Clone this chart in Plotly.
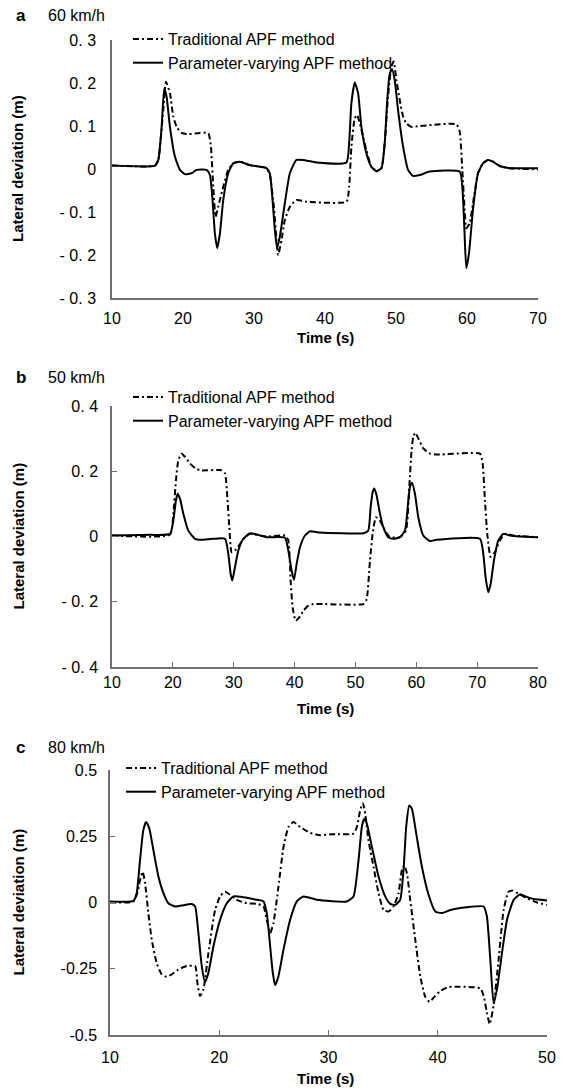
import plotly.graph_objects as go

# ---------------- Panel a (60 km/h) ----------------
a_t_pv = [10, 16.05, 16.52, 16.99, 17.36, 17.69, 18.16, 18.86, 19.57, 20.27, 21.21, 21.91, 23.32, 23.79, 24.16, 24.49, 24.82, 25.2, 25.67, 26.37, 27.07, 28.01, 29.42, 31.76, 32.23, 32.61, 32.94, 33.26, 33.64, 34.34, 35.05, 35.98, 36.92, 38.8, 43.02, 43.4, 43.72, 44.19, 44.66, 45.13, 45.83, 46.54, 47.24, 47.95, 48.41, 48.74, 49.12, 49.45, 49.82, 50.29, 51.0, 51.7, 52.4, 53.34, 54.75, 58.97, 59.34, 59.62, 59.9, 60.28, 60.84, 61.55, 62.25, 62.96, 63.66, 64.6, 66.0, 70]
a_v_pv = [0.008, 0.008, 0.021, 0.098, 0.188, 0.168, 0.098, 0.029, -0.002, -0.012, -0.010, -0.002, -0.002, -0.014, -0.072, -0.150, -0.184, -0.150, -0.072, -0.010, 0.013, 0.017, 0.009, 0.002, -0.010, -0.072, -0.142, -0.184, -0.157, -0.080, -0.010, 0.021, 0.021, 0.015, 0.015, 0.060, 0.153, 0.201, 0.176, 0.098, 0.036, 0.005, -0.005, 0.002, 0.060, 0.153, 0.222, 0.232, 0.207, 0.137, 0.052, -0.002, -0.016, -0.014, -0.006, -0.006, -0.041, -0.134, -0.231, -0.196, -0.095, -0.010, 0.013, 0.021, 0.017, 0.007, 0.002, 0.002]
a_t_tr = [10, 16.05, 16.52, 17.22, 17.6, 18.16, 18.63, 19.1, 19.8, 20.74, 22.38, 23.56, 23.93, 24.26, 24.59, 24.96, 25.67, 26.37, 27.07, 28.01, 29.42, 31.76, 32.23, 32.8, 33.17, 33.41, 33.88, 34.34, 35.05, 35.98, 37.39, 43.02, 43.4, 43.72, 44.19, 44.52, 45.13, 45.83, 46.54, 47.24, 47.95, 48.41, 48.88, 49.35, 49.68, 50.06, 50.53, 51.0, 51.46, 52.17, 53.34, 58.5, 58.97, 59.34, 59.67, 59.9, 60.38, 60.84, 61.55, 62.25, 62.96, 63.66, 64.6, 66.0, 70]
a_v_tr = [0.008, 0.008, 0.021, 0.137, 0.203, 0.176, 0.122, 0.098, 0.084, 0.081, 0.084, 0.083, 0.052, -0.041, -0.111, -0.088, -0.041, -0.002, 0.013, 0.017, 0.009, 0.002, -0.014, -0.088, -0.165, -0.200, -0.165, -0.119, -0.088, -0.072, -0.076, -0.076, -0.041, 0.052, 0.118, 0.126, 0.091, 0.044, 0.005, -0.005, 0.002, 0.060, 0.168, 0.238, 0.250, 0.207, 0.160, 0.122, 0.106, 0.098, 0.100, 0.104, 0.087, -0.002, -0.095, -0.138, -0.126, -0.080, -0.010, 0.013, 0.021, 0.017, 0.007, 0.002, -0.001]
a_yticks = [0.3, 0.2, 0.1, 0, -0.1, -0.2, -0.3]
a_yticktext = ["0. 3", "0. 2", "0. 1", "0", "- 0. 1", "- 0. 2", "- 0. 3"]
a_xticks = [10, 20, 30, 40, 50, 60, 70]

# ---------------- Panel b (50 km/h) ----------------
b_t_pv = [10, 16.24, 19.53, 20.08, 20.51, 20.79, 21.17, 21.72, 22.54, 23.64, 24.46, 26.65, 28.57, 29.11, 29.5, 29.77, 30.21, 30.76, 31.58, 32.67, 33.77, 35.41, 38.42, 38.97, 39.52, 39.9, 40.34, 40.89, 41.71, 42.53, 44.17, 51.29, 52.11, 52.5, 52.83, 53.1, 53.48, 54.03, 54.58, 55.4, 56.22, 57.32, 58.14, 58.69, 58.96, 59.29, 59.78, 60.33, 61.15, 62.25, 63.34, 70.46, 71.01, 71.39, 71.83, 72.21, 72.76, 73.47, 74.29, 75.39, 77.03, 80]
b_v_pv = [0.003, 0.005, 0.008, 0.049, 0.111, 0.131, 0.116, 0.070, 0.018, -0.007, -0.010, -0.007, -0.007, -0.053, -0.115, -0.135, -0.094, -0.043, -0.007, 0.010, 0.006, -0.002, -0.004, -0.043, -0.105, -0.133, -0.084, -0.033, 0.003, 0.016, 0.012, 0.010, 0.018, 0.090, 0.136, 0.147, 0.126, 0.070, 0.029, -0.002, -0.007, -0.002, 0.018, 0.111, 0.152, 0.165, 0.131, 0.059, 0.003, -0.014, -0.010, -0.007, -0.053, -0.125, -0.171, -0.146, -0.074, -0.012, 0.008, 0.003, 0.0, -0.002]
b_t_tr = [10, 19.53, 20.08, 20.51, 20.9, 21.45, 21.99, 22.81, 23.64, 24.46, 28.02, 28.57, 28.95, 29.28, 29.66, 30.21, 31.03, 31.85, 32.67, 35.41, 38.42, 38.97, 39.35, 39.68, 40.18, 40.78, 41.43, 42.26, 43.08, 51.29, 51.84, 52.39, 52.83, 53.37, 54.03, 54.85, 55.67, 57.32, 58.3, 58.85, 59.23, 59.51, 59.84, 60.33, 61.15, 62.25, 63.34, 70.46, 70.9, 71.28, 71.66, 72.21, 72.92, 73.74, 74.57, 75.94, 80]
b_v_tr = [0.003, 0.006, 0.070, 0.172, 0.234, 0.254, 0.244, 0.224, 0.210, 0.203, 0.203, 0.193, 0.121, 0.029, -0.048, -0.043, -0.023, -0.002, 0.008, 0.0, 0.003, -0.012, -0.135, -0.217, -0.258, -0.248, -0.228, -0.212, -0.207, -0.207, -0.192, -0.074, 0.008, 0.059, 0.049, 0.018, -0.002, -0.002, 0.018, 0.152, 0.265, 0.306, 0.318, 0.301, 0.270, 0.254, 0.251, 0.254, 0.224, 0.111, 0.008, -0.062, -0.048, -0.012, 0.008, 0.003, -0.002]
b_yticks = [0.4, 0.2, 0, -0.2, -0.4]
b_yticktext = ["0. 4", "0. 2", "0", "- 0. 2", "- 0. 4"]
b_xticks = [10, 20, 30, 40, 50, 60, 70, 80]

# ---------------- Panel c (80 km/h) ----------------
c_t_pv = [10, 12.14, 12.44, 12.75, 13.05, 13.3, 13.6, 13.97, 14.43, 14.89, 15.34, 15.95, 16.72, 17.48, 17.79, 18.09, 18.4, 18.7, 19.01, 19.47, 20.08, 20.69, 21.3, 22.21, 23.44, 24.05, 24.35, 24.66, 24.9, 25.11, 25.42, 25.88, 26.49, 27.1, 27.71, 28.93, 31.68, 32.29, 32.75, 33.05, 33.27, 33.51, 33.97, 34.58, 35.19, 35.65, 36.11, 36.56, 36.87, 37.11, 37.39, 37.63, 38.03, 38.55, 39.16, 39.77, 40.38, 41.15, 42.67, 44.2, 44.5, 44.81, 45.11, 45.42, 45.88, 46.34, 46.95, 47.56, 48.02, 48.78, 50]
c_v_pv = [0.004, 0.006, 0.035, 0.160, 0.273, 0.304, 0.279, 0.198, 0.098, 0.035, -0.003, -0.015, -0.010, -0.006, -0.015, -0.115, -0.240, -0.300, -0.265, -0.165, -0.065, -0.003, 0.023, 0.020, 0.010, 0.004, -0.040, -0.165, -0.265, -0.3125, -0.278, -0.178, -0.065, 0.004, 0.023, 0.010, 0.004, 0.023, 0.160, 0.285, 0.316, 0.298, 0.210, 0.098, 0.023, -0.005, -0.009, 0.010, 0.123, 0.285, 0.366, 0.354, 0.260, 0.135, 0.029, -0.034, -0.040, -0.028, -0.018, -0.015, -0.053, -0.215, -0.380, -0.328, -0.190, -0.065, 0.010, 0.031, 0.023, 0.013, 0.008]
c_t_tr = [10, 12.14, 12.5, 12.75, 12.99, 13.21, 13.51, 13.82, 14.27, 14.73, 15.19, 15.65, 16.26, 17.02, 17.79, 18.0, 18.24, 18.55, 19.01, 19.62, 20.08, 20.53, 20.99, 21.6, 22.52, 23.44, 24.05, 24.35, 24.66, 24.96, 25.42, 25.88, 26.34, 26.79, 27.4, 28.32, 29.24, 30.46, 32.29, 32.6, 32.9, 33.15, 33.36, 33.66, 34.12, 34.58, 35.04, 35.5, 35.95, 36.41, 36.72, 36.93, 37.18, 37.48, 37.94, 38.4, 38.85, 39.25, 39.62, 40.23, 40.99, 43.89, 44.2, 44.5, 44.75, 45.11, 45.57, 46.03, 46.49, 46.86, 47.4, 48.17, 49.08, 50]
c_v_tr = [0.0, 0.004, 0.035, 0.085, 0.116, 0.073, -0.040, -0.140, -0.228, -0.271, -0.280, -0.271, -0.253, -0.240, -0.240, -0.303, -0.353, -0.328, -0.190, -0.028, 0.023, 0.041, 0.029, 0.010, -0.003, -0.005, -0.015, -0.065, -0.115, -0.078, 0.060, 0.210, 0.285, 0.304, 0.285, 0.263, 0.254, 0.258, 0.260, 0.285, 0.348, 0.375, 0.335, 0.235, 0.135, 0.035, -0.028, -0.034, -0.015, 0.035, 0.123, 0.141, 0.110, 0.010, -0.140, -0.278, -0.355, -0.375, -0.359, -0.334, -0.319, -0.324, -0.353, -0.415, -0.459, -0.390, -0.215, -0.028, 0.041, 0.045, 0.033, 0.016, 0.0, -0.009]
c_yticks = [0.5, 0.25, 0, -0.25, -0.5]
c_yticktext = ["0.5", "0.25", "0", "-0.25", "-0.5"]
c_xticks = [10, 20, 30, 40, 50]

names = ["Traditional APF method", "Parameter-varying APF method"]
panel_letters = ["a", "b", "c"]
speeds = ["60 km/h", "50 km/h", "80 km/h"]

W, H = 563, 1090
FONT = "Arial, Liberation Sans, sans-serif"
DASH = "6px,3px,2px,3px"
AXC = "#6e6e6e"

fig = go.Figure()

panels = [
    (a_t_tr, a_v_tr, a_t_pv, a_v_pv, "x", "y", "legend"),
    (b_t_tr, b_v_tr, b_t_pv, b_v_pv, "x2", "y2", "legend2"),
    (c_t_tr, c_v_tr, c_t_pv, c_v_pv, "x3", "y3", "legend3"),
]
for ttr, vtr, tpv, vpv, xa, ya, lg in panels:
    fig.add_trace(go.Scatter(x=ttr, y=vtr, mode="lines", name=names[0], xaxis=xa, yaxis=ya,
                             legend=lg, line=dict(color="black", width=2, dash=DASH, shape="spline", smoothing=0.5)))
    fig.add_trace(go.Scatter(x=tpv, y=vpv, mode="lines", name=names[1], xaxis=xa, yaxis=ya,
                             legend=lg, line=dict(color="black", width=2, shape="spline", smoothing=0.5)))

def px_x(p):
    return p / W

def px_y(p):
    return 1 - p / H

axis_common = dict(showline=True, linecolor=AXC, linewidth=1.5, showgrid=False, zeroline=False,
                   tickfont=dict(family=FONT, size=16, color="black"), mirror=False, automargin=False)

# domains (in pixels)
dom = {
    "a": dict(x=(112, 538), y=(40, 298)),
    "b": dict(x=(112, 538), y=(406, 667)),
    "c": dict(x=(110, 547), y=(770, 1035)),
}

def xd(k):
    return [px_x(dom[k]["x"][0]), px_x(dom[k]["x"][1])]

def yd(k):
    return [px_y(dom[k]["y"][1]), px_y(dom[k]["y"][0])]

layout = dict(
    width=W, height=H, margin=dict(l=0, r=0, t=0, b=0, autoexpand=False),
    paper_bgcolor="white", plot_bgcolor="white", showlegend=True,
    font=dict(family=FONT, size=16, color="black"),
    xaxis=dict(axis_common, domain=xd("a"), range=[10, 70], tickvals=a_xticks, ticks="", anchor="y",
               ticklabelstandoff=5),
    yaxis=dict(axis_common, domain=yd("a"), range=[-0.3, 0.3], tickvals=a_yticks, ticktext=a_yticktext,
               ticks="", anchor="x", ticklabelstandoff=11),
    xaxis2=dict(axis_common, domain=xd("b"), range=[10, 80], tickvals=b_xticks, ticks="inside", ticklen=5,
                tickcolor=AXC, anchor="y2", ticklabelstandoff=0),
    yaxis2=dict(axis_common, domain=yd("b"), range=[-0.4, 0.4], tickvals=b_yticks, ticktext=b_yticktext,
                ticks="inside", ticklen=5, tickcolor=AXC, anchor="x2", ticklabelstandoff=9),
    xaxis3=dict(axis_common, domain=xd("c"), range=[10, 50], tickvals=c_xticks, ticks="inside", ticklen=5,
                tickcolor=AXC, anchor="y3", ticklabelstandoff=7),
    yaxis3=dict(axis_common, domain=yd("c"), range=[-0.5, 0.5], tickvals=c_yticks, ticktext=c_yticktext,
                ticks="inside", ticklen=5, tickcolor=AXC, anchor="x3", ticklabelstandoff=8),
)

leg_common = dict(bgcolor="rgba(0,0,0,0)", font=dict(family=FONT, size=16, color="black"),
                  xanchor="left", yanchor="top", tracegroupgap=0, itemwidth=30)
layout["legend"] = dict(leg_common, x=px_x(128), y=px_y(22))
layout["legend2"] = dict(leg_common, x=px_x(128), y=px_y(380))
layout["legend3"] = dict(leg_common, x=px_x(121), y=px_y(751))

fig.update_layout(**layout)

annotations = []
letter_y = [15, 378, 747]
ycenter_refs = ["y domain", "y2 domain", "y3 domain"]
time_y = [338, 708, 1078]
for i in range(3):
    annotations.append(dict(text="<b>" + panel_letters[i] + "</b>", x=px_x(14), y=px_y(letter_y[i]),
                            xref="paper", yref="paper", xanchor="left", yanchor="middle", showarrow=False,
                            font=dict(family=FONT, size=17, color="black")))
    annotations.append(dict(text=speeds[i], x=px_x(46), y=px_y(letter_y[i]),
                            xref="paper", yref="paper", xanchor="left", yanchor="middle", showarrow=False,
                            font=dict(family=FONT, size=16, color="black")))
    annotations.append(dict(text="<b>Lateral deviation (m)</b>", x=px_x(18), y=0.5,
                            xref="paper", yref=ycenter_refs[i], xanchor="center", yanchor="middle",
                            textangle=-90, showarrow=False, font=dict(family=FONT, size=15, color="black")))
    annotations.append(dict(text="<b>Time (s)</b>", x=px_x(325), y=px_y(time_y[i]),
                            xref="paper", yref="paper", xanchor="center", yanchor="middle", showarrow=False,
                            font=dict(family=FONT, size=15, color="black")))
fig.update_layout(annotations=annotations)

fig.write_html("out.html")
